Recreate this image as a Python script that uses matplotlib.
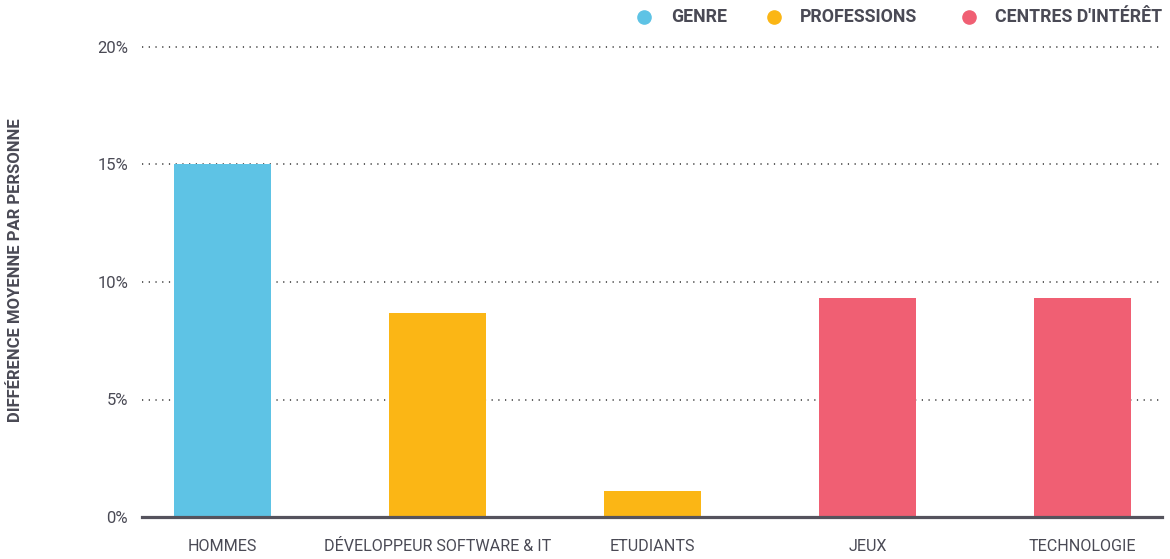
import matplotlib
matplotlib.use("Agg")
import matplotlib.pyplot as plt
from matplotlib.lines import Line2D

categories = ["HOMMES", "DÉVELOPPEUR SOFTWARE & IT", "ETUDIANTS", "JEUX", "TECHNOLOGIE"]
values = [15.0, 8.7, 1.1, 9.3, 9.3]
groups = ["GENRE", "PROFESSIONS", "PROFESSIONS", "CENTRES D'INTÉRÊT", "CENTRES D'INTÉRÊT"]
legend_labels = ["GENRE", "PROFESSIONS", "CENTRES D'INTÉRÊT"]
group_colors = {"GENRE": "#5EC3E5", "PROFESSIONS": "#FBB615", "CENTRES D'INTÉRÊT": "#F05F73"}
yticks = [0, 5, 10, 15, 20]
ytick_labels = ["0%", "5%", "10%", "15%", "20%"]
ylabel = "DIFFÉRENCE MOYENNE PAR PERSONNE"

plt.rcParams['font.family'] = ['Roboto', 'DejaVu Sans']
TXT = "#4a4a55"

W, H = 1170, 559
fig = plt.figure(figsize=(W / 100, H / 100), dpi=100)
ymax = 20.2
px_per_unit = 23.5
ax_bottom_px = 517
ax_h_px = ymax * px_per_unit
ax = fig.add_axes([142 / W, 1 - ax_bottom_px / H, (1162 - 142) / W, ax_h_px / H])

x = list(range(len(categories)))
ax.bar(x, values, width=0.45, color=[group_colors[g] for g in groups], zorder=2)
ax.set_xlim(-0.375, 4.37)
ax.set_ylim(0, ymax)

ax.set_yticks(yticks)
ax.set_yticklabels(ytick_labels)
ax.set_xticks(x)
ax.set_xticklabels(categories)
ax.tick_params(axis='y', length=0, pad=10, labelsize=12, labelcolor=TXT)
ax.tick_params(axis='x', length=0, pad=16, labelsize=11.6, labelcolor=TXT)

for s in ["top", "right", "left"]:
    ax.spines[s].set_visible(False)
ax.spines["bottom"].set_color("#55535d")
ax.spines["bottom"].set_linewidth(2.3)
ax.spines["bottom"].set_zorder(3)

for yt in yticks[1:]:
    ax.axhline(yt, color="#333333", lw=1.1, linestyle=(0, (0.8, 3.6)), zorder=1)

fig.text(16 / W, 1 - 270 / H, ylabel, rotation=90, ha='center', va='center',
         fontsize=12, fontweight='bold', color=TXT)

# legend
marker_x = [644, 774, 969]
text_x = [671, 800, 995]
ly = 1 - 17 / H
for mx, tx, lab in zip(marker_x, text_x, legend_labels):
    fig.add_artist(Line2D([mx / W], [ly], marker='o', markersize=9.5, color=group_colors[lab],
                          linestyle='none', transform=fig.transFigure))
    fig.text(tx / W, ly, lab, ha='left', va='center', fontsize=12.8, fontweight='bold', color=TXT)

fig.savefig("out.png", dpi=100)
